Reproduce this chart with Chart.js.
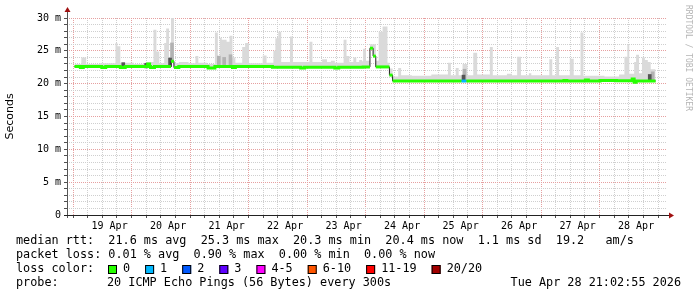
<!DOCTYPE html>
<html>
<head>
<meta charset="utf-8">
<script src="https://cdn.jsdelivr.net/npm/chart.js@4/dist/chart.umd.min.js"></script>
<style>
  html, body { margin: 0; padding: 0; background: #fff; }
  #wrap { width: 697px; height: 297px; }
</style>
</head>
<body>
<div id="wrap"><canvas id="c" width="697" height="297"></canvas></div>
<script>
// hours counted from 19 Apr 00:00
const dayLabels = ['19 Apr', '20 Apr', '21 Apr', '22 Apr', '23 Apr', '24 Apr', '25 Apr', '26 Apr', '27 Apr', '28 Apr'];

// median rtt (ms), one value per step start
const medianHours = [-2.4, 0, 1.2, 8.8, 10.4, 16.4, 18.4, 27.6, 28.4, 28.8,
  30.4, 37.2, 38.4, 40.4, 52.4, 55.2, 62.4, 63.6, 78.8, 90.4,
  92, 104.4, 106, 116, 118.8, 120.1, 121.2, 126.8, 128.1, 156.4,
  158.4, 198.4, 199.6, 207.2, 208.4, 213.2, 220, 226.4, 227.2, 228, 236];
const medianMs = [22.6, 22.45, 22.6, 22.45, 22.6, 22.45, 22.6, 23.0, 22.6, 22.45,
  22.6, 23.4, 22.45, 22.6, 22.4, 22.6, 22.45, 22.6, 22.5, 22.4,
  22.5, 22.4, 22.5, 22.55, 25.4, 24.2, 22.55, 21.3, 20.4, 20.4,
  20.4, 20.5, 20.4, 20.55, 20.4, 20.5, 20.45, 20.7, 20.2, 20.4, 20.4];
const medianLoss = [0, 0, 0, 0, 0, 0, 0, 0, 0, 0,
  0, 0, 0, 0, 0, 0, 0, 0, 0, 0,
  0, 0, 0, 0, 0, 0, 0, 0, 0, 1,
  0, 0, 0, 0, 0, 0, 0, 0, 0, 0, 0];

// upper edge of the light smoke (ms)
const smokeHours = [-2.4, 0.4, 2.4, 8, 14.4, 15.2, 16.4, 22, 26.8, 30,
  31.2, 32.4, 34.4, 35.2, 36.4, 37.2, 38.4, 40.4, 44.4, 47.2,
  48.4, 52, 55.2, 56.4, 57.2, 58, 60, 61.2, 62.4, 63.6,
  66.4, 67.6, 69.2, 74.8, 76.4, 79.2, 80, 81.2, 82.4, 86,
  87.2, 94, 95.2, 99.2, 101.2, 102.8, 104.4, 108, 109.2, 110.4,
  112, 113.2, 114.4, 115.6, 116, 117.2, 118.8, 121.2, 122.4, 124,
  126, 126.8, 128.1, 130.4, 131.6, 136, 144, 150.8, 152, 154,
  155.2, 156.8, 158.8, 161.2, 162.8, 168, 169.2, 175, 177, 179.2,
  180.8, 184, 185, 192.4, 193.6, 195.2, 196.4, 200.8, 202.4, 205.2,
  206.4, 215, 221, 223.2, 224.4, 225.2, 227.2, 228, 229.2, 230.4,
  231.6, 232.8, 234, 236];
const smokeTopMs = [23.0, 24.0, 23.0, 23.1, 26.2, 25.7, 23.2, 23.0, 23.3, 28.2,
  24.9, 23.1, 26.2, 28.4, 23.6, 30.5, 23.1, 23.3, 23.1, 24.2,
  23.2, 23.0, 27.8, 24.0, 27.0, 26.7, 26.4, 27.3, 24.0, 23.2,
  25.6, 26.2, 23.1, 24.3, 23.2, 25.0, 26.9, 27.9, 23.3, 27.2,
  23.3, 26.4, 23.3, 23.7, 23.3, 23.5, 23.2, 26.7, 24.2, 23.3,
  24.0, 23.3, 23.6, 23.4, 25.3, 23.5, 26.0, 23.5, 27.9, 28.7,
  23.2, 22.3, 21.1, 22.4, 21.3, 21.2, 21.4, 23.2, 21.3, 22.4,
  21.3, 23.0, 21.3, 24.7, 21.4, 25.6, 21.3, 21.5, 21.3, 24.1,
  21.3, 21.6, 21.3, 23.7, 21.3, 25.6, 21.3, 23.8, 21.3, 27.8,
  21.2, 21.1, 21.4, 24.1, 26.0, 21.5, 23.3, 24.4, 21.6, 24.0,
  23.6, 23.3, 22.2, 22.2];

// denser smoke patches near the median
const midSmokeHours = [37.6, 56.8, 59.0, 61.6, 157.6, 234.8];
const midSmokeLow = [23.6, 22.9, 22.9, 22.9, 20.6, 20.6];
const midSmokeHigh = [26.2, 24.2, 24.0, 24.4, 22.2, 21.8];
const darkSmokeHours = [17.6, 27.0, 36.8, 157.2, 233.6];
const darkSmokeLow = [22.7, 22.4, 22.6, 20.5, 20.6];
const darkSmokeHigh = [23.2, 23.1, 23.9, 21.3, 21.4];

const lossLabels = ['0', '1', '2', '3', '4-5', '6-10', '11-19', '20/20'];
const lossColors = ['#26ff00', '#00b8ff', '#0059ff', '#5e00ff', '#ff00ff', '#ff5500', '#ff0000', '#a10000'];

const MONO = '"DejaVu Sans Mono", monospace';
const MAJOR = '#e6a0a0';
const MINOR = '#cfcfcf';

function lossIndex(n) {
  if (n <= 3) return n;
  if (n <= 5) return 4;
  if (n <= 10) return 5;
  if (n <= 19) return 6;
  return 7;
}

// coloured median band, broken where the step is large so the black line shows
const greenPts = [];
medianHours.forEach((h, i) => {
  if (i > 0 && Math.abs(medianMs[i] - medianMs[i - 1]) > 0.6) {
    greenPts.push({ x: h, y: medianMs[i - 1], loss: medianLoss[i - 1] });
    greenPts.push({ x: h, y: null });
  }
  greenPts.push({ x: h, y: medianMs[i], loss: medianLoss[i] });
});

const textPlugin = {
  id: 'rrdText',
  afterDraw(chart) {
    const ctx = chart.ctx;
    const a = chart.chartArea;
    ctx.save();
    // axes with arrows
    ctx.strokeStyle = '#555';
    ctx.lineWidth = 1;
    ctx.beginPath();
    ctx.moveTo(a.left + 0.5, a.bottom + 3);
    ctx.lineTo(a.left + 0.5, a.top - 8);
    ctx.stroke();
    ctx.strokeStyle = '#222';
    ctx.beginPath();
    ctx.moveTo(a.left - 3, a.bottom + 0.5);
    ctx.lineTo(a.right + 3, a.bottom + 0.5);
    ctx.stroke();
    ctx.fillStyle = '#a01010';
    ctx.beginPath();
    ctx.moveTo(a.left + 0.5, a.top - 11);
    ctx.lineTo(a.left - 2.5, a.top - 6);
    ctx.lineTo(a.left + 3.5, a.top - 6);
    ctx.fill();
    ctx.beginPath();
    ctx.moveTo(a.right + 7, a.bottom + 0.5);
    ctx.lineTo(a.right + 2, a.bottom - 2.5);
    ctx.lineTo(a.right + 2, a.bottom + 3.5);
    ctx.fill();

    // watermark
    ctx.save();
    ctx.translate(688, 5);
    ctx.rotate(Math.PI / 2);
    ctx.font = '8px ' + MONO;
    ctx.fillStyle = '#b5b5b5';
    ctx.textBaseline = 'middle';
    ctx.fillText('RRDTOOL / TOBI OETIKER', 0, 0);
    ctx.restore();

    // legend block
    ctx.font = '11.8px ' + MONO;
    ctx.fillStyle = '#000';
    ctx.textBaseline = 'middle';
    ctx.fillText('median rtt:  21.6 ms avg  25.3 ms max  20.3 ms min  20.4 ms now  1.1 ms sd  19.2   am/s', 16, 241);
    ctx.fillText('packet loss: 0.01 % avg  0.90 % max  0.00 % min  0.00 % now', 16, 255);
    ctx.fillText('loss color:', 16, 269);
    let x = 108;
    lossLabels.forEach((lab, i) => {
      ctx.fillStyle = lossColors[i];
      ctx.fillRect(x, 265, 9, 9);
      ctx.strokeStyle = '#000';
      ctx.strokeRect(x + 0.5, 265.5, 8, 8);
      ctx.fillStyle = '#000';
      ctx.fillText(lab, x + 15, 269);
      x += 15 + ctx.measureText(lab).width + 15;
    });
    ctx.fillText('probe:', 16, 283);
    ctx.fillText('20 ICMP Echo Pings (56 Bytes) every 300s', 107, 283);
    ctx.textAlign = 'right';
    ctx.fillText('Tue Apr 28 21:02:55 2026', 681, 283);
    ctx.restore();
  }
};

new Chart(document.getElementById('c'), {
  type: 'line',
  data: {
    datasets: [
      {
        label: 'smoke',
        data: smokeHours.map((h, i) => ({ x: h, y: smokeTopMs[i] })),
        stepped: 'before',
        borderWidth: 0,
        pointRadius: 0,
        backgroundColor: '#dadada',
        fill: 3,
        order: 5
      },
      {
        type: 'bar',
        label: 'smoke mid',
        data: midSmokeHours.map((h, i) => ({ x: h, y: [midSmokeLow[i], midSmokeHigh[i]] })),
        backgroundColor: '#b2b2b2',
        barThickness: 3,
        grouped: false,
        order: 4
      },
      {
        type: 'bar',
        label: 'smoke dark',
        data: darkSmokeHours.map((h, i) => ({ x: h, y: [darkSmokeLow[i], darkSmokeHigh[i]] })),
        backgroundColor: '#555555',
        barThickness: 3,
        grouped: false,
        order: 3
      },
      {
        label: 'median',
        data: medianHours.map((h, i) => ({ x: h, y: medianMs[i] })),
        stepped: 'before',
        borderColor: '#202020',
        borderWidth: 1,
        pointRadius: 0,
        fill: false,
        order: 2
      },
      {
        label: 'median loss colour',
        data: greenPts,
        stepped: 'before',
        borderColor: lossColors[0],
        borderWidth: 3,
        borderCapStyle: 'butt',
        pointRadius: 0,
        fill: false,
        spanGaps: false,
        segment: {
          borderColor: c => lossColors[lossIndex(greenPts[c.p0DataIndex].loss || 0)]
        },
        order: 1
      }
    ]
  },
  options: {
    responsive: false,
    devicePixelRatio: 1,
    animation: false,
    events: [],
    layout: { padding: { top: 18, right: 30, bottom: 0, left: 0 } },
    plugins: { legend: { display: false }, tooltip: { enabled: false } },
    scales: {
      x: {
        type: 'linear',
        min: -2.4,
        max: 237.6,
        afterBuildTicks: s => {
          const t = [];
          for (let h = 0; h <= 234; h += 6) t.push({ value: h });
          s.ticks = t;
        },
        afterFit: s => { s.height = 82; },
        ticks: {
          autoSkip: false,
          maxRotation: 0,
          padding: 2,
          color: '#000',
          font: { family: MONO, size: 10 },
          callback: v => (v % 24 === 12 ? dayLabels[(v - 12) / 24] : '')
        },
        grid: {
          color: c => (c.tick && c.tick.value % 24 === 0 ? MAJOR : MINOR),
          tickColor: '#505050',
          tickLength: 3
        },
        border: { display: false, dash: [1, 1] }
      },
      y: {
        min: 0,
        max: 30,
        afterFit: s => { s.width = 67; },
        ticks: {
          stepSize: 1,
          autoSkip: false,
          padding: 3,
          color: '#000',
          font: { family: MONO, size: 10 },
          callback: v => (v % 5 === 0 ? (v === 0 ? '0' : v + ' m') : '')
        },
        grid: {
          color: c => (c.tick && c.tick.value % 5 === 0 ? MAJOR : MINOR),
          tickColor: '#505050',
          tickLength: 3
        },
        border: { display: false, dash: [1, 1] },
        title: {
          display: true,
          text: 'Seconds',
          color: '#000',
          font: { family: '"DejaVu Sans", sans-serif', size: 11 },
          padding: { top: 4, bottom: 0 }
        }
      }
    }
  },
  plugins: [textPlugin]
});
</script>
</body>
</html>
